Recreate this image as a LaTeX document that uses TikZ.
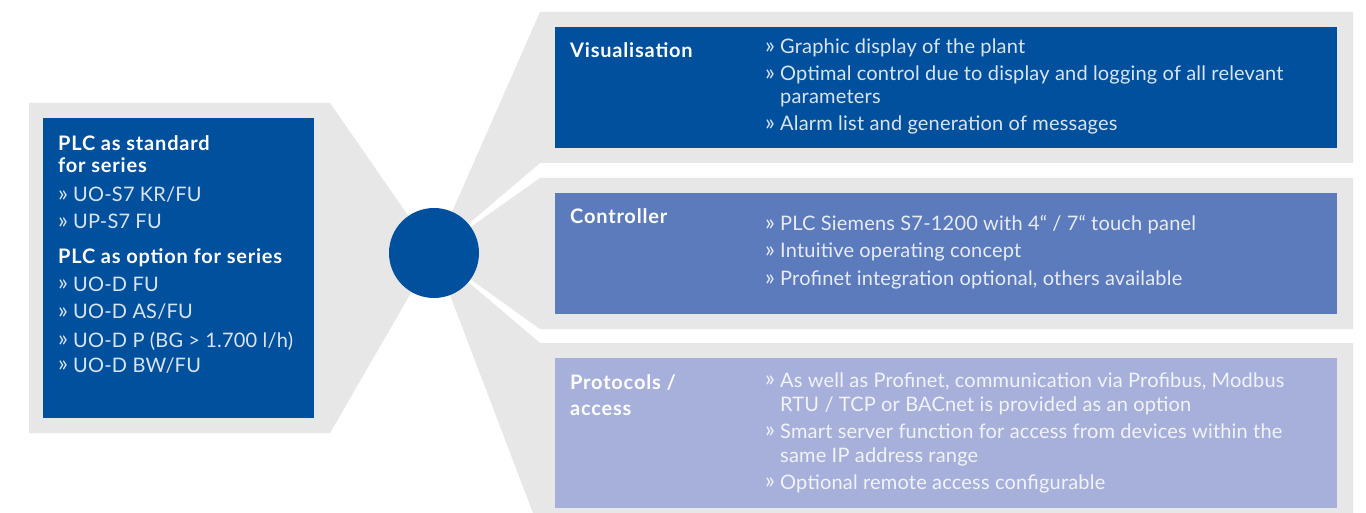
\documentclass[tikz,border=0pt]{standalone}
\usepackage{fontspec}
\setmainfont{Lato}
\usetikzlibrary{positioning}
\definecolor{plcBlue}{HTML}{00509E}
\definecolor{plcMid}{HTML}{5C7BBC}
\definecolor{plcPale}{HTML}{A6B0DA}
\definecolor{plcGrey}{HTML}{E7E7E7}
\newcommand\bul{\makebox[15pt][l]{\raisebox{0.5pt}{\fontsize{23}{23}\selectfont»}}}

\begin{document}
\begin{tikzpicture}[x=1pt,y=-1pt,line join=round]
\useasboundingbox[fill=white] (0,0) rectangle (1366,513);
\tikzset{panel/.style={fill=plcGrey},card/.style={anchor=north west,inner sep=0pt,minimum width=782pt,minimum height=121pt},head/.style={anchor=base west,inner sep=0pt,text=white,font=\fontsize{20}{22}\selectfont\bfseries\addfontfeature{LetterSpace=4}},item/.style={anchor=base west,inner sep=0pt,text=white,text opacity=0.85,font=\fontsize{20}{24}\selectfont\addfontfeature{LetterSpace=1}}}
\coordinate (hub) at (434,253);
% grey funnels behind the cards
\path[panel] (29,103) -- (330,103) -- (hub) -- (330,433) -- (29,433) -- cycle;
\path[panel] (hub) -- (540,12) -- (1353,12) -- (1353,163) -- (540,163) -- cycle;
\path[panel] (hub) -- (540,178) -- (1353,178) -- (1353,329) -- (540,329) -- cycle;
\path[panel] (hub) -- (540,343) -- (1353,343) -- (1353,513) -- (533,513) -- cycle;
\node[circle,fill=plcBlue,minimum size=90pt,inner sep=0pt] (core) at (hub) {};
% cards
\node[card,fill=plcBlue,minimum width=271pt,minimum height=300pt] (series) at (43,118) {};
\node[card,fill=plcBlue] (vis) at (555,27) {};
\node[card,fill=plcMid] (ctrl) at (555,193) {};
\node[card,fill=plcPale,minimum height=150pt] (proto) at (555,358) {};
% left card text
\node[head] (stdT) at (58,151) {PLC as standard}; \node[head] (stdT2) at (58,173) {for series};
\node[item] (std1) at (58,202) {\bul UO-S7 KR/FU}; \node[item] (std2) at (58,229) {\bul UP-S7 FU};
\node[head] (optT) at (58,264) {PLC as option for series};
\node[item] (opt1) at (58,291) {\bul UO-D FU}; \node[item] (opt2) at (58,319) {\bul UO-D AS/FU};
\node[item] (opt3) at (58,347) {\bul UO-D P (BG > 1.700 l/h)}; \node[item] (opt4) at (58,372) {\bul UO-D BW/FU};
% visualisation
\node[head] (visT) at (570,58) {Visualisation};
\node[item] (vis1) at (765,54) {\bul Graphic display of the plant};
\node[item] (vis2) at (765,81) {\bul Optimal control due to display and logging of all relevant};
\node[item] (vis2b) at (765,104) {\phantom{\bul}parameters};
\node[item] (vis3) at (765,131) {\bul Alarm list and generation of messages};
% controller
\node[head] (ctrlT) at (570,224) {Controller};
\node[item] (ctrl1) at (765,231) {\bul PLC Siemens S7-1200 with 4“ / 7“ touch panel};
\node[item] (ctrl2) at (765,258) {\bul Intuitive operating concept};
\node[item] (ctrl3) at (765,286) {\bul Profinet integration optional, others available};
% protocols
\node[head] (protoT) at (570,389) {Protocols /}; \node[head] (protoT2) at (570,415) {access};
\node[item] (proto1) at (765,387) {\bul As well as Profinet, communication via Profibus, Modbus};
\node[item] (proto1b) at (765,411) {\phantom{\bul}RTU / TCP or BACnet is provided as an option};
\node[item] (proto2) at (765,438) {\bul Smart server function for access from devices within the};
\node[item] (proto2b) at (765,462) {\phantom{\bul}same IP address range};
\node[item] (proto3) at (765,489) {\bul Optional remote access configurable};
\end{tikzpicture}
\end{document}
